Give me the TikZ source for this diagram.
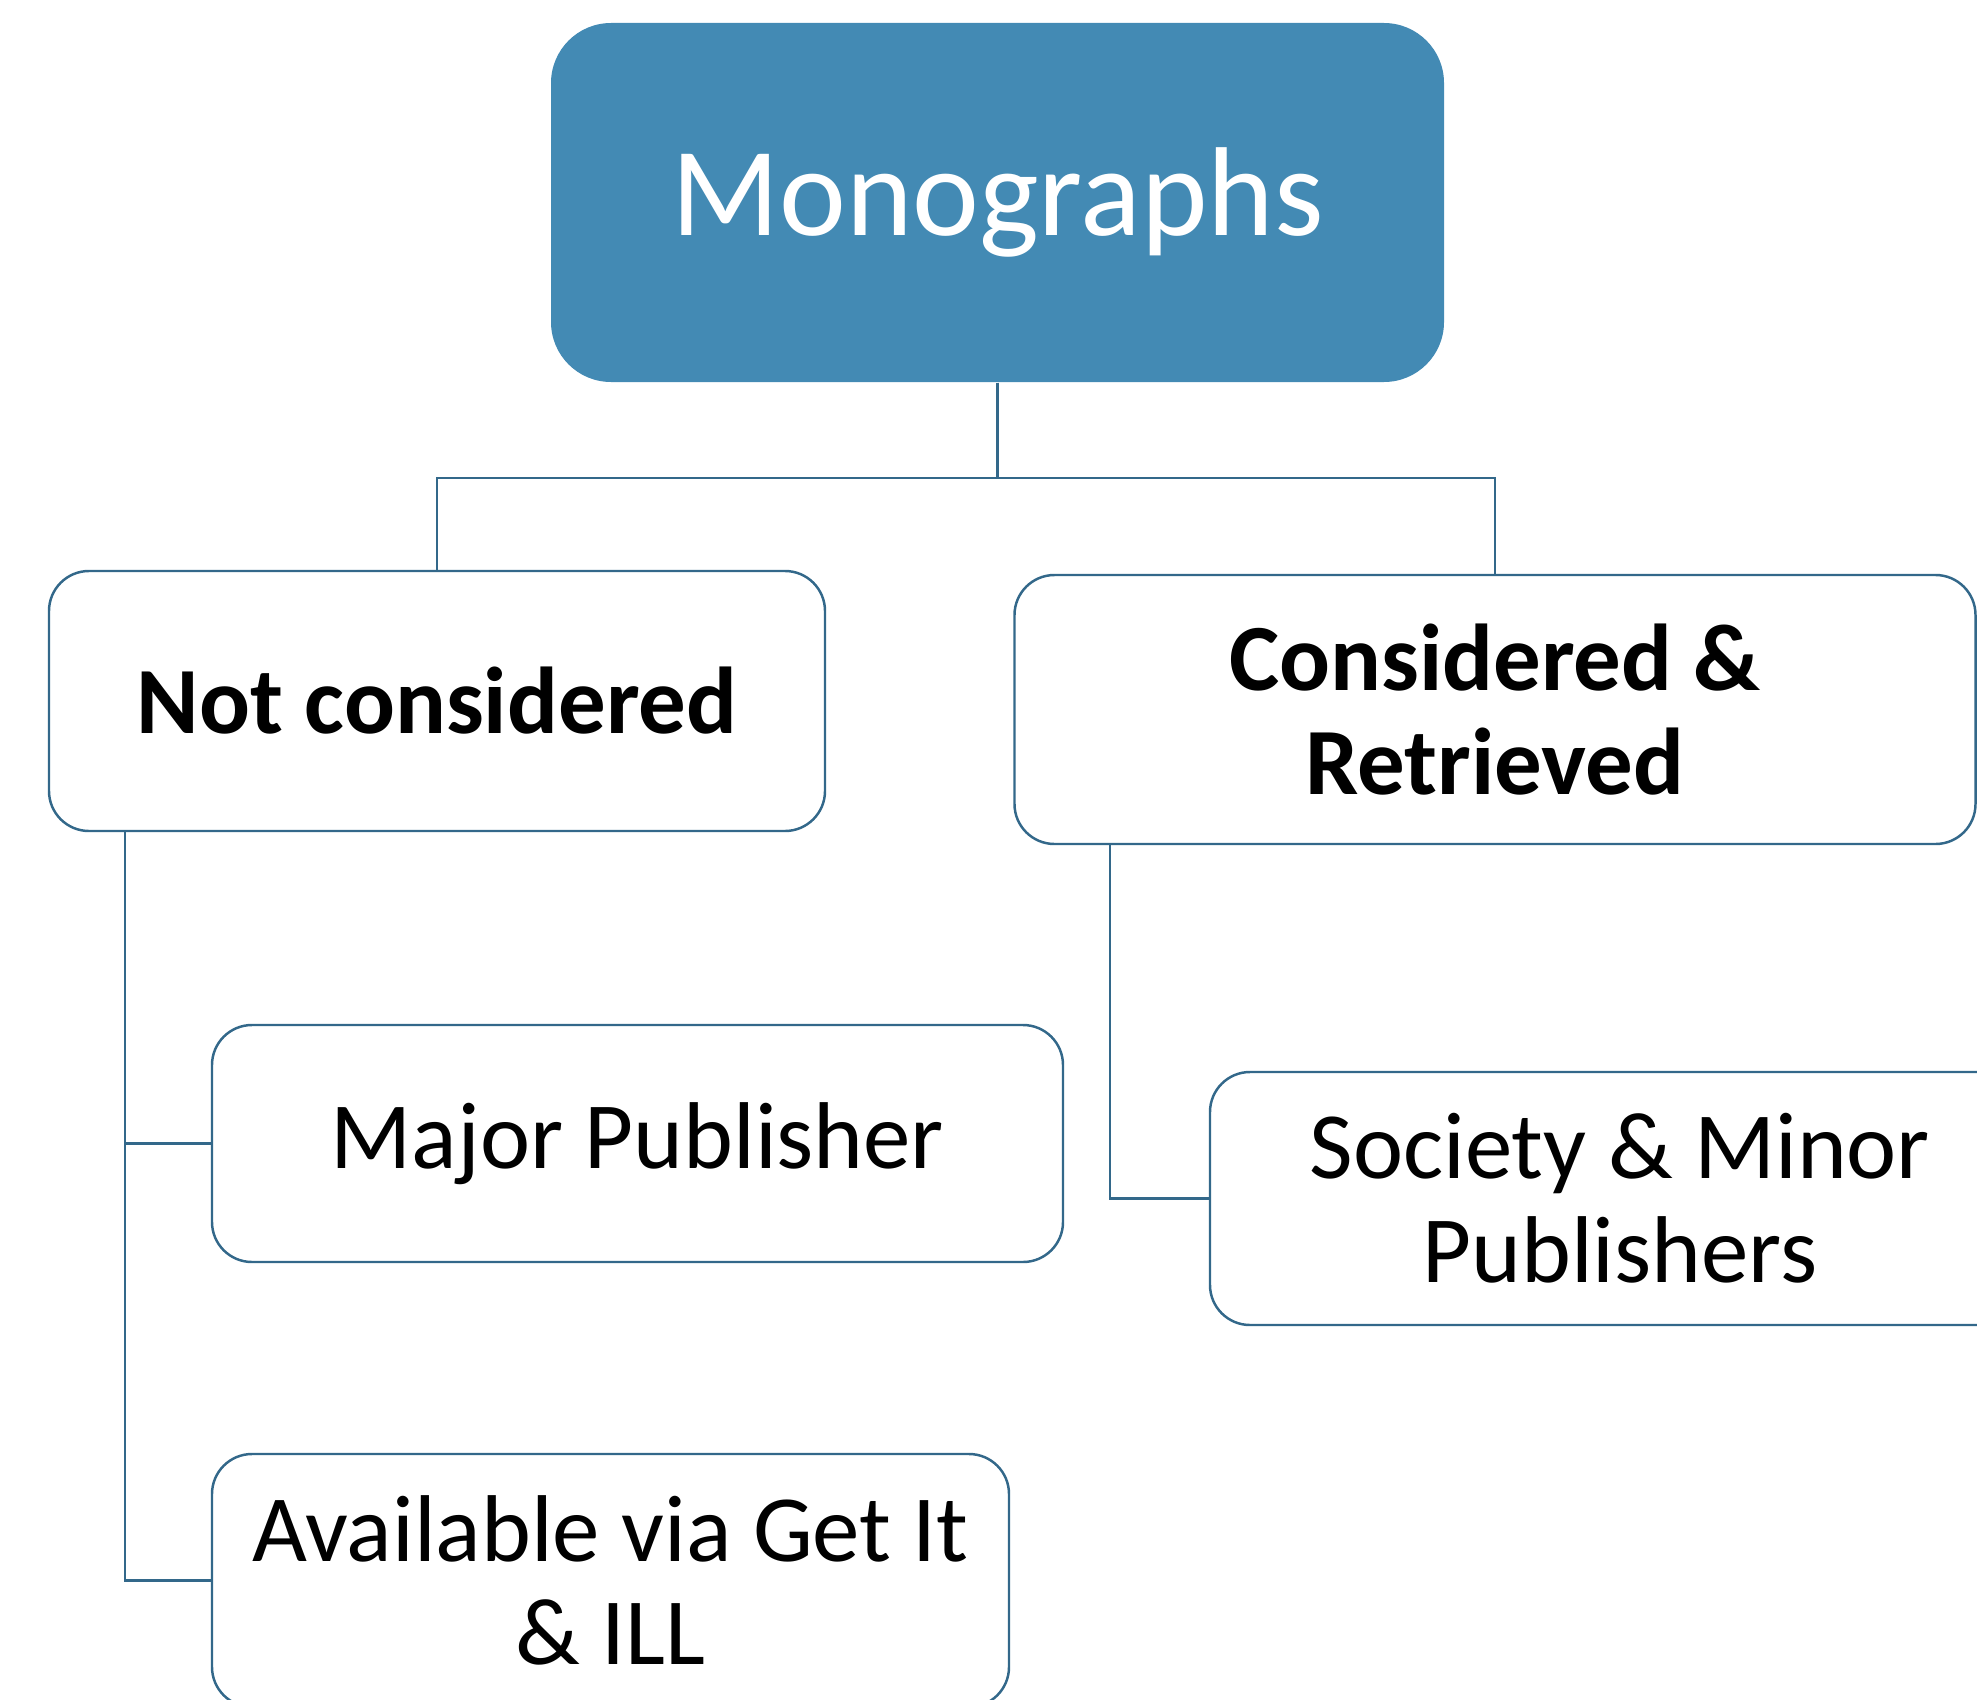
\documentclass[tikz,border=0pt]{standalone}
\usepackage{fontspec}
\setmainfont{Carlito}
\usetikzlibrary{positioning}
\definecolor{MonoBlue}{HTML}{438AB4}
\definecolor{EdgeBlue}{HTML}{33688A}

\begin{document}
\begin{tikzpicture}[
        root/.style={rectangle, rounded corners=0.6cm, fill=MonoBlue, text=white, inner sep=0pt, minimum width=8.93cm, minimum height=3.59cm, align=center, font=\fontsize{36}{40}\selectfont},
        box/.style={rectangle, rounded corners=0.4cm, draw=EdgeBlue, line width=0.7pt, fill=white, inner sep=0pt, align=center, font=\fontsize{27}{29.5}\selectfont},
        link/.style={draw=EdgeBlue, line width=0.6pt}
    ]
        \useasboundingbox (0,0) rectangle (19.77,-17);

        % Root
        \node[root] (mono) at (9.975,-2.025) {Monographs};

        % Categories
        \node[box, minimum width=7.76cm, minimum height=2.60cm, font=\fontsize{27}{29.5}\selectfont\bfseries] (notc) at (4.37,-7.01) {Not considered};
        \node[box, minimum width=9.61cm, minimum height=2.69cm, font=\fontsize{27}{29.5}\selectfont\bfseries] (cons) at (14.95,-7.095) {Considered \&\\Retrieved};

        % Sub items
        \node[box, minimum width=8.51cm, minimum height=2.37cm] (major) at (6.375,-11.435) {Major Publisher};
        \node[box, minimum width=7.97cm, minimum height=2.53cm] (avail) at (6.105,-15.805) {Available via Get It\\\& ILL};
        \node[box, minimum width=8.20cm, minimum height=2.53cm] (soc) at (16.20,-11.985) {Society \& Minor\\Publishers};

        % Links
        \draw[link] (mono.south) -- ++(0,-0.95) -| (notc.north);
        \draw[link] (mono.south) -- ++(0,-0.95) -| (cons.north);
        \draw[link] ([xshift=0.77cm]notc.south west) |- (major.west);
        \draw[link] ([xshift=0.77cm]notc.south west) |- (avail.west);
        \draw[link] ([xshift=0.97cm]cons.south west) |- (soc.west);

    \end{tikzpicture}
\end{document}
